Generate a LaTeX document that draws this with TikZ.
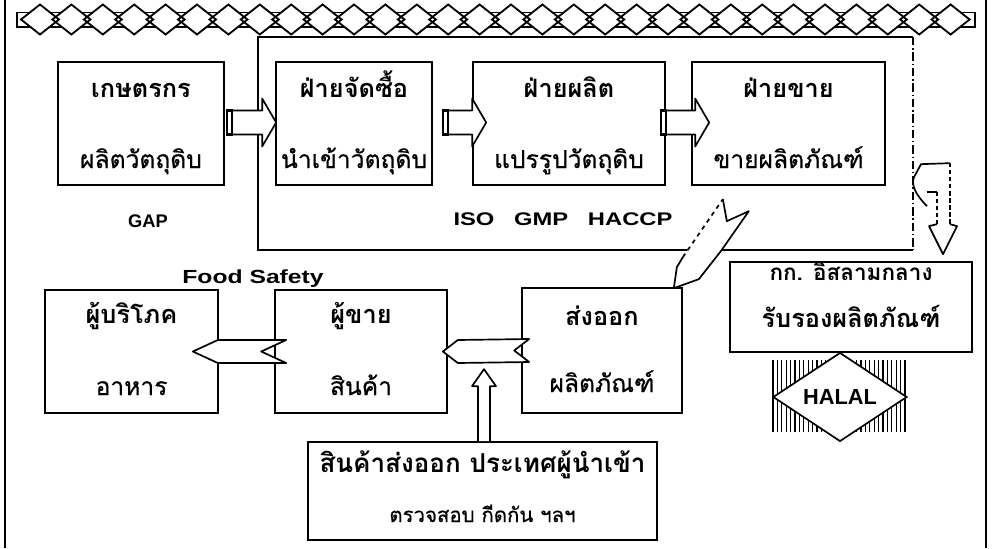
\documentclass[tikz,border=0pt]{standalone}
\usepackage{fontspec}
\setmainfont{Liberation Sans}
\newfontfamily\widefont[FakeStretch=1.3]{Liberation Sans}
\newfontfamily\thaifont[Script=Thai]{Loma}
\newfontfamily\thaisub[Script=Thai, FakeBold=0.6]{Loma}
\usetikzlibrary{calc,shapes.geometric}

\tikzset{
  box/.style={draw, line width=1.2pt, inner sep=0pt},
  ttl/.style={anchor=base, inner sep=0pt, font=\thaifont\bfseries\fontsize{18}{21}\selectfont},
  sub/.style={anchor=base, inner sep=0pt, font=\thaisub\fontsize{17.5}{20}\selectfont},
  lbl/.style={anchor=base, inner sep=0pt, font=\widefont\bfseries\fontsize{13}{15}\selectfont},
  hollow/.style={draw, line width=1.2pt, fill=white, line join=round},
}

\begin{document}
\begin{tikzpicture}[x=0.025cm, y=-0.025cm]
\useasboundingbox (0,0) rectangle (992,548);
% frame and diamond band
\draw[line width=1.5pt] (5,0) -- (5,548) (986,0) -- (986,548);
\draw[line width=1.2pt] (17,12.5) rectangle (975,27);
\foreach \i in {0,...,29}
  \fill[white] (40+31.4*\i,4.5) -- ++(19,15) -- ++(-19,15) -- ++(-19,-15) -- cycle;
\foreach \i in {0,...,29}
  \draw[line width=1.3pt] (40+31.4*\i,4.5) -- ++(19,15) -- ++(-19,15) -- ++(-19,-15) -- cycle;

% ISO GMP HACCP area
\draw[line width=1.2pt] (913,37) -- (258,37) -- (258,250) -- (913,250);
\draw[line width=1.2pt, dash pattern=on 6pt off 2pt on 1pt off 2pt] (913,37) -- (913,250);

% boxes
\foreach \n/\x/\y/\w/\h in {farm/141/123.5/166/123, buy/354/123.5/156/123,
    prod/569/123.5/192/123, sell/788.5/123.5/193/123, cons/131.5/351.5/173/123,
    shop/361/351.5/172/123, export/602/350.5/160/125, halalorg/851/307/242/90,
    import/482.5/491/349/98}
  \node[box, minimum width=\w*0.025cm, minimum height=\h*0.025cm] (\n) at (\x,\y) {};

\node[ttl] (farm-t) at ($(farm)+(0,-26.5)$) {เกษตรกร};
\node[sub] (farm-s) at ($(farm)+(0,44.5)$) {ผลิตวัตถุดิบ};
\node[ttl] (buy-t) at ($(buy)+(0,-26.5)$) {ฝ่ายจัดซื้อ};
\node[sub] (buy-s) at ($(buy)+(0,44.5)$) {นำเข้าวัตถุดิบ};
\node[ttl] (prod-t) at ($(prod)+(0,-26.5)$) {ฝ่ายผลิต};
\node[sub] (prod-s) at ($(prod)+(0,44.5)$) {แปรรูปวัตถุดิบ};
\node[ttl] (sell-t) at ($(sell)+(0,-26.5)$) {ฝ่ายขาย};
\node[sub] (sell-s) at ($(sell)+(0,44.5)$) {ขายผลิตภัณฑ์};
\node[ttl] (cons-t) at ($(cons)+(0,-28.5)$) {ผู้บริโภค};
\node[sub] (cons-s) at ($(cons)+(0,43.5)$) {อาหาร};
\node[ttl] (shop-t) at ($(shop)+(0,-28.5)$) {ผู้ขาย};
\node[sub] (shop-s) at ($(shop)+(0,43.5)$) {สินค้า};
\node[ttl] (export-t) at ($(export)+(0,-25.5)$) {ส่งออก};
\node[sub] (export-s) at ($(export)+(0,41.5)$) {ผลิตภัณฑ์};
\node[ttl, font=\thaifont\bfseries\fontsize{16}{18}\selectfont] (halalorg-t) at ($(halalorg)+(0,-27)$) {กก. อิสลามกลาง};
\node[ttl] (halalorg-s) at ($(halalorg)+(0,20)$) {รับรองผลิตภัณฑ์};
\node[ttl, font=\thaifont\bfseries\fontsize{18.5}{21}\selectfont] (import-t) at ($(import)+(0,-19)$) {สินค้าส่งออก ประเทศผู้นำเข้า};
\node[sub, font=\thaisub\fontsize{14.5}{17}\selectfont] (import-s) at ($(import)+(0,31)$) {ตรวจสอบ กีดกัน ฯลฯ};

\node[lbl, font=\bfseries\fontsize{13}{15}\selectfont] (gap) at (148,227) {GAP};
\node[lbl] (iso) at (563,225) {ISO\hspace{14pt}GMP\hspace{14pt}HACCP};
\node[lbl, font=\widefont\bfseries\fontsize{13.5}{16}\selectfont] (food) at (253,283) {Food Safety};

% halal mark
\foreach \i in {0,...,30}
  \draw[line width=0.8pt] (773+4.4*\i,360) -- (773+4.4*\i,432);
\node[draw, diamond, line width=1.2pt, fill=white, inner sep=0pt,
  minimum width=134*0.025cm, minimum height=70*0.025cm,
  font=\bfseries\fontsize{15.5}{18}\selectfont] (halal) at (840,397) {HALAL};

% block arrows, top row
\foreach \a/\b/\s/\e in {farm/buy/2/1, buy/prod/10/14, prod/sell/-5/18}{
  \coordinate (t) at ($(\a.east)+(\s,-1)$);
  \coordinate (p) at ($(\b.west)+(\e,-1)$);
  \draw[hollow] ($(t)+(0,-12)$) -- ($(p)+(-14,-12)$) -- ($(p)+(-14,-24)$) -- (p)
    -- ($(p)+(-14,24)$) -- ($(p)+(-14,12)$) -- ($(t)+(0,12)$) -- cycle;
  \draw[line width=1.6pt] ($(t)+(0,-12)$) rectangle ($(t)+(5,12)$);
}
% notched arrows, bottom row
\foreach \a/\b/\s/\e/\h in {shop/cons/12/-26/25, export/shop/8/-5/15}{
  \coordinate (t) at ($(\a.west)+(\s,0)$);
  \coordinate (p) at ($(\b.east)+(\e,0)$);
  \draw[hollow] (p) -- ($(p)+(\h,-11.5)$) -- ($(t)+(0,-11.5)$) -- ($(t)+(-\h,0)$)
    -- ($(t)+(0,11.5)$) -- ($(p)+(\h,11.5)$) -- cycle;
}
% up arrow from import
\coordinate (u) at ($(import.north)+(1.5,0)$);
\draw[hollow] ($(u)+(-6,0)$) -- ($(u)+(-6,-55)$) -- ($(u)+(-12,-55)$) -- ($(u)+(0,-72)$)
  -- ($(u)+(12,-55)$) -- ($(u)+(6,-55)$) -- ($(u)+(6,0)$);

% lightning to export
\coordinate (b) at ($(export.north east)+(-9,1)$);
\fill[white] (b) -- ($(b)+(3,-21)$) -- ($(b)+(9,-31)$) -- ($(b)+(49,-89)$) -- ($(b)+(53,-67)$)
  -- ($(b)+(75,-77)$) -- ($(b)+(47,-37)$) -- ($(b)+(25,-9)$) -- cycle;
\draw[line width=1.2pt, dashed] ($(b)+(9,-31)$) -- ($(b)+(49,-89)$);
\draw[line width=1.2pt, line join=round] ($(b)+(49,-89)$) -- ($(b)+(53,-67)$) -- ($(b)+(75,-77)$)
  -- ($(b)+(47,-37)$) -- ($(b)+(25,-9)$) -- (b) -- ($(b)+(3,-21)$) -- ($(b)+(9,-31)$);

% bent arrow to halalorg
\coordinate (h) at ($(halalorg.north)+(92,-7)$);
\draw[line width=1.2pt] ($(h)+(-16,-48)$) .. controls ($(h)+(-28,-60)$) and ($(h)+(-32,-70)$) .. ($(h)+(-29,-77)$)
  -- ($(h)+(-22,-90)$) -- ($(h)+(7,-91)$);
\draw[line width=1.2pt, densely dashed] ($(h)+(7,-91)$) -- ($(h)+(7,-30)$);
\draw[line width=1.2pt, line join=round] ($(h)+(7,-30)$) -- ($(h)+(14,-28)$) -- (h) -- ($(h)+(-14,-28)$) -- ($(h)+(-6,-30)$);
\draw[line width=1.2pt, densely dashed] ($(h)+(-6,-30)$) -- ($(h)+(-6,-62)$);
\draw[line width=1.2pt] ($(h)+(-6,-62)$) -- ($(h)+(-16,-62)$);
\end{tikzpicture}
\end{document}
